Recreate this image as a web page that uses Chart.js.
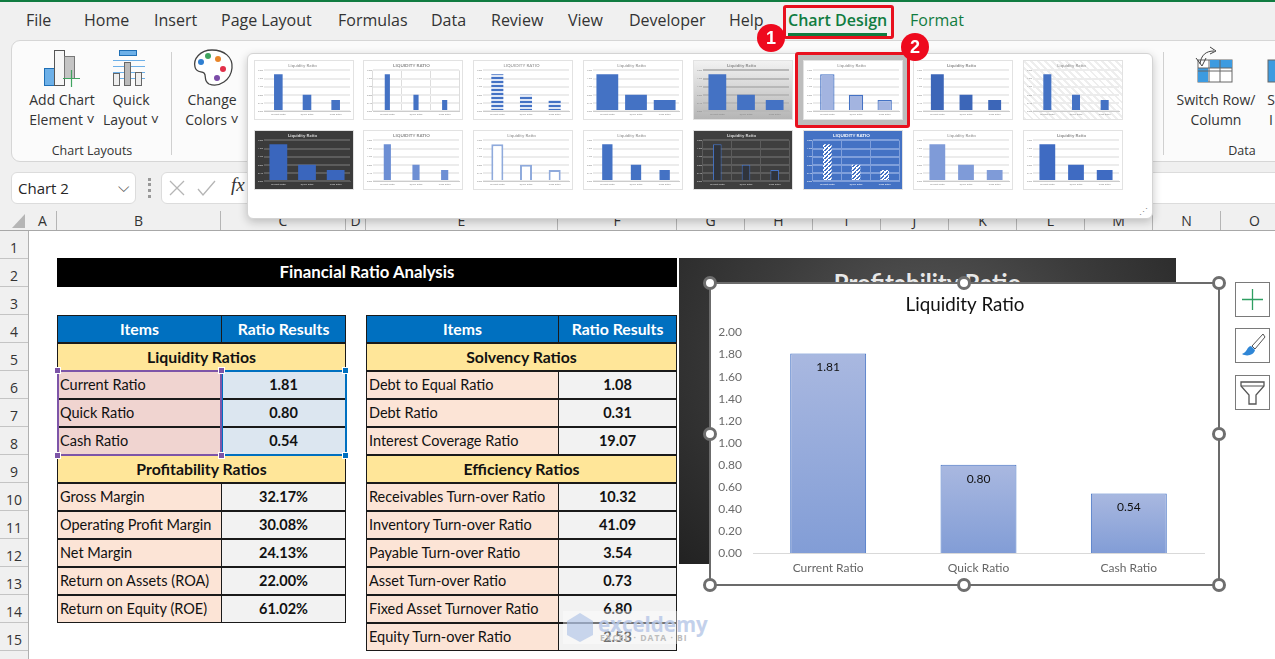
<!DOCTYPE html>
<html>
<head>
<meta charset="utf-8">
<title>Liquidity Ratio</title>
<script src="https://cdn.jsdelivr.net/npm/chart.js@4"></script>
<style>
  html, body { margin: 0; padding: 0; background: #fff; }
  #page { position: relative; width: 1275px; height: 659px; overflow: hidden; font-family: "Open Sans", sans-serif; color: #262626; }
  #page div, #page span { box-sizing: border-box; }
  .abs { position: absolute; white-space: nowrap; }
  .tab { position: absolute; top: 9px; font-size: 16px; line-height: 22px; white-space: nowrap; color: #333; }
  .rib { position: absolute; font-size: 14px; line-height: 20px; text-align: center; transform: translateX(-50%); white-space: nowrap; color: #333; }
  .hdr { position: absolute; font-size: 14px; color: #333; text-align: center; border-right: 1px solid #b5b5b5; }
  .cell { position: absolute; font-family: Lato, sans-serif; font-size: 14.5px; line-height: 26px; height: 28px; border: 1px solid #1a1a1a; padding-left: 2px; white-space: nowrap; color: #111; }
  .cell.val { text-align: center; font-weight: 700; padding-left: 0; }
  .cell.head { background: #0070c0; color: #fff; font-weight: 700; font-size: 15.8px; line-height: 25px; text-align: center; padding-left: 0; }
  .cell.sec { background: #ffe699; font-weight: 700; font-size: 15.8px; line-height: 25px; text-align: center; padding-left: 0; }
  .handle { position: absolute; width: 14px; height: 14px; border-radius: 50%; background: #fff; border: 3px solid #6e6e6e; }
  .side { position: absolute; left: 1235px; width: 35px; height: 35px; background: #fff; border: 1px solid #7a7a7a; }
  .thumb { position: absolute; width: 100px; height: 60px; border: 1px solid #e2e2e2; }
  .thumb canvas { display: block; }
  .badge { position: absolute; width: 28px; height: 28px; border-radius: 50%; background: #ee0a1e; color: #fff; font: 700 18px/28px "Liberation Sans", sans-serif; text-align: center; }
  .redbox { position: absolute; border: 3px solid #e8101e; border-radius: 3px; }
</style>
</head>
<body>
<div id="page">
  <!-- ribbon -->
  <div class="abs" style="left:0;top:0;width:1275px;height:231px;background:#f0f0f0"></div>
  <div class="abs" style="left:0;top:0;width:1275px;height:1.5px;background:#107c41"></div>
  <span class="tab" style="left:26px">File</span>
  <span class="tab" style="left:84px">Home</span>
  <span class="tab" style="left:154px">Insert</span>
  <span class="tab" style="left:221px">Page Layout</span>
  <span class="tab" style="left:338px">Formulas</span>
  <span class="tab" style="left:431px">Data</span>
  <span class="tab" style="left:491px">Review</span>
  <span class="tab" style="left:568px">View</span>
  <span class="tab" style="left:629px">Developer</span>
  <span class="tab" style="left:729px">Help</span>
  <span class="tab" style="left:788px;color:#107c41;font-weight:600">Chart Design</span>
  <span class="tab" style="left:910px;color:#107c41">Format</span>
  <div class="abs" style="left:788px;top:33px;width:99px;height:2.5px;background:#107c41"></div>

  <div class="abs" style="left:11px;top:40px;width:1290px;height:122px;background:#fbfbfb;border:1px solid #d6d6d6;border-radius:9px"></div>
  <div class="abs" style="left:171px;top:52px;width:1px;height:103px;background:#d0d0d0"></div>
  <div class="abs" style="left:1163px;top:52px;width:1px;height:103px;background:#d0d0d0"></div>

  <svg class="abs" style="left:40px;top:46px" width="125" height="44" viewBox="0 0 125 44">
    <rect x="4.5" y="22.5" width="10" height="17" fill="#6db0e8" stroke="#1f6fb5"/>
    <rect x="14.5" y="4.5" width="10" height="35" fill="#f6f6f6" stroke="#555"/>
    <rect x="24.5" y="10.5" width="10" height="22" fill="#c4c4c4" stroke="#777"/>
    <path d="M23 32.5h17M31.5 24v17" stroke="#3fa45f" stroke-width="1.2"/>
    <rect x="79.5" y="4.5" width="17" height="5" fill="#6db0e8" stroke="#1f6fb5"/>
    <path d="M73 14.5h32M73 20.5h32M73 26.5h32M73 32.5h32" stroke="#6db0e8"/>
    <rect x="73.5" y="27.5" width="6" height="12" fill="#eee" stroke="#666"/>
    <rect x="84.5" y="16.5" width="6" height="23" fill="#bbb" stroke="#666"/>
    <rect x="95.5" y="26.5" width="6" height="13" fill="#eee" stroke="#666"/>
  </svg>
  <svg class="abs" style="left:190px;top:48px" width="46" height="40" viewBox="0 0 46 40">
    <path d="M22 2C10 2 3 11 5 19c1 6 7 4 9 6 3 3-1 7 5 11 10 4 22-4 23-16C43 9 34 2 22 2Z" fill="#fff" stroke="#444" stroke-width="1.3"/>
    <circle cx="11" cy="14" r="3" fill="#2f7fd1"/><circle cx="18" cy="8" r="3" fill="#3fa45f"/>
    <circle cx="28" cy="11" r="3" fill="#e8852a"/><circle cx="33" cy="21" r="3" fill="#e2304a"/>
    <circle cx="27" cy="30" r="3" fill="#7b4ca8"/>
  </svg>
  <svg class="abs" style="left:1190px;top:46px" width="85" height="40" viewBox="0 0 85 40">
    <rect x="8" y="14" width="34" height="22" fill="#fff" stroke="#666"/>
    <rect x="20" y="14" width="22" height="8" fill="#3d9be0"/><rect x="8" y="22" width="10" height="14" fill="#3d9be0"/>
    <path d="M8 25h34M8 22h34M19 14v22M30 14v22" stroke="#666" fill="none"/>
    <path d="M6 12l6 8 4-8M10 18C11 9 16 5 24 5M20 1l6 4-6 3" stroke="#444" fill="none"/>
    <rect x="78" y="14" width="20" height="22" fill="#3d9be0" stroke="#666"/>
  </svg>

  <span class="rib" style="left:62px;top:90px">Add Chart</span>
  <span class="rib" style="left:62px;top:110px">Element ˅</span>
  <span class="rib" style="left:131px;top:90px">Quick</span>
  <span class="rib" style="left:131px;top:110px">Layout ˅</span>
  <span class="rib" style="left:212px;top:90px">Change</span>
  <span class="rib" style="left:212px;top:110px">Colors ˅</span>
  <span class="rib" style="left:92px;top:141px;font-size:12.5px">Chart Layouts</span>
  <span class="rib" style="left:1216px;top:90px">Switch Row/</span>
  <span class="rib" style="left:1216px;top:110px">Column</span>
  <span class="rib" style="left:1271px;top:90px">S</span>
  <span class="rib" style="left:1271px;top:110px">I</span>
  <span class="rib" style="left:1242px;top:141px;font-size:12.5px">Data</span>

  <!-- formula bar -->
  <div class="abs" style="left:11px;top:172px;width:125px;height:32px;background:#fff;border:1px solid #dcdcdc;border-radius:6px;font-size:15px;line-height:30px;padding-left:6px">Chart 2<span style="position:absolute;left:106px;top:-2px;color:#555">⌵</span></div>
  <div class="abs" style="left:148px;top:178px;width:3px;height:20px;border-left:3px dotted #999"></div>
  <div class="abs" style="left:161px;top:172px;width:1200px;height:32px;background:#fff;border:1px solid #dcdcdc;border-radius:6px"></div>
  <svg class="abs" style="left:168px;top:178px" width="50" height="20" viewBox="0 0 50 20"><path d="M2 3l14 14M16 3L2 17M30 11l5 6 12-14" stroke="#b5b5b5" stroke-width="1.3" fill="none"/></svg>
  <span class="abs" style="left:231px;top:174px;font:italic 19px 'Liberation Serif',serif;color:#333">fx</span>

  <!-- sheet headers -->
  <div class="abs" style="left:0;top:210px;width:1275px;height:21px;background:#f0f0f0;border-bottom:1.5px solid #a8a8a8"></div>
  <div id="colHeaders"></div>
  <div class="abs" style="left:0;top:231px;width:29px;height:428px;background:#f0f0f0;border-right:1.5px solid #b0b0b0"></div>
  <div id="rowHeaders"></div>
  <svg class="abs" style="left:11px;top:213px" width="16" height="16"><path d="M14 1v14H1Z" fill="#b5b5b5"/></svg>

  <!-- sheet -->
  <div class="abs" style="left:57px;top:258px;width:620px;height:29px;background:#000;color:#fff;font:700 16.8px/28px Lato,sans-serif;text-align:center">Financial Ratio Analysis</div>
  <div id="tables"></div>

  <!-- chart hiding behind -->
  <div class="abs" style="left:679px;top:258px;width:497px;height:306px;background:radial-gradient(ellipse at 50% 30%,#5a5a5a 0%,#3b3b3b 50%,#222 100%);overflow:hidden">
    <div style="position:absolute;left:0;width:100%;top:10px;text-align:center;color:#e8e8e8;font:700 24px Lato,sans-serif">Profitability Ratio</div>
  </div>

  <!-- main chart -->
  <div class="abs" style="left:709px;top:282px;width:511px;height:304px;background:#fff;border:2px solid #6b6b6b">
    <canvas id="mainChart" style="position:absolute;left:-1px;top:-1px"></canvas>
  </div>
  <div id="handles"></div>
  <div class="side" style="top:282px"><svg width="33" height="33"><path d="M16.5 6v21M6 16.5h21" stroke="#2e9e62" stroke-width="1.3"/></svg></div>
  <div class="side" style="top:328px"><svg width="33" height="33"><path d="M27 5 16 17l3 3L29 8Z" fill="#fff" stroke="#555"/><path d="M15 17c-5 1-3 6-9 8 5 3 12 1 13-4Z" fill="#2f86d6"/></svg></div>
  <div class="side" style="top:375px"><svg width="33" height="33"><path d="M5 6h23v4l-8 9v9h-7v-9l-8-9Z" fill="#fff" stroke="#555" stroke-width="1.3"/><path d="M5 10h23" stroke="#555"/></svg></div>

  <!-- chart style gallery -->
  <div class="abs" style="left:247px;top:53px;width:906px;height:166px;background:#fff;border:1px solid #d4d4d4;border-radius:6px;box-shadow:0 3px 10px rgba(0,0,0,.22)"></div>
  <div class="abs" style="left:798px;top:55px;width:109px;height:70px;background:#bdbdbd"></div>
  <div id="gallery"></div>
  <div class="abs" style="left:1139px;top:207px;font-size:9px;color:#888;line-height:9px">⋰</div>

  <!-- callouts -->
  <div class="redbox" style="left:783px;top:5px;width:111px;height:34px"></div>
  <div class="redbox" style="left:795px;top:52px;width:115px;height:76px"></div>
  <div class="badge" style="left:757px;top:24px">1</div>
  <div class="badge" style="left:901px;top:33px">2</div>

  <!-- watermark -->
  <div class="abs" style="left:563px;top:611px;width:150px;height:33px;background:rgba(255,255,255,.4)"></div>
  <svg class="abs" style="left:565px;top:612px;opacity:.6" width="30" height="30"><path d="M15 1 28 9v14l-13 7L2 23V9Z" fill="#a9bfe6"/></svg>
  <span class="abs" style="left:598px;top:610px;font:700 20.5px 'Open Sans',sans-serif;color:#b9c9e8;opacity:.85">exceldemy</span>
  <span class="abs" style="left:600px;top:632px;font:700 8.5px 'Open Sans',sans-serif;letter-spacing:1px;color:#bcbcbc">EXCEL · DATA · BI</span>
</div>

<script>
// chart data
const categories = ['Current Ratio', 'Quick Ratio', 'Cash Ratio'];
const ratioValues = [1.81, 0.80, 0.54];
const yMax = 2;
const yStep = 0.2;

// sheet tables
const liquidityRows = [['Current Ratio', '1.81'], ['Quick Ratio', '0.80'], ['Cash Ratio', '0.54']];
const profitabilityRows = [['Gross Margin', '32.17%'], ['Operating Profit Margin', '30.08%'], ['Net Margin', '24.13%'], ['Return on Assets (ROA)', '22.00%'], ['Return on Equity (ROE)', '61.02%']];
const solvencyRows = [['Debt to Equal Ratio', '1.08'], ['Debt Ratio', '0.31'], ['Interest Coverage Ratio', '19.07']];
const efficiencyRows = [['Receivables Turn-over Ratio', '10.32'], ['Inventory Turn-over Ratio', '41.09'], ['Payable Turn-over Ratio', '3.54'], ['Asset Turn-over Ratio', '0.73'], ['Fixed Asset Turnover Ratio', '6.80'], ['Equity Turn-over Ratio', '2.53']];

const columnLetters = ['A', 'B', 'C', 'D', 'E', 'F', 'G', 'H', 'I', 'J', 'K', 'L', 'M', 'N', 'O'];
const columnEdges = [29, 57, 221, 346, 366, 558, 677, 745, 813, 881, 949, 1017, 1085, 1153, 1221, 1289];

function addDiv(parent, cls, css, text) {
    const d = document.createElement('div');
    d.className = cls;
    d.style.cssText = css;
    if (text !== undefined) d.textContent = text;
    parent.appendChild(d);
    return d;
}

// column and row headers
columnLetters.forEach((c, i) => {
    addDiv(colHeaders, 'hdr', `left:${columnEdges[i]}px;top:211px;width:${columnEdges[i + 1] - columnEdges[i]}px;height:19px;line-height:19px`, c);
});
for (let r = 1; r <= 15; r++) {
    const top = 231 + (r - 1) * 28;
    addDiv(rowHeaders, 'hdr', `left:0;top:${top}px;width:28px;height:28px;line-height:34px;border-right:0;border-bottom:1px solid #c4c4c4`, r);
}

// one block: header, section title and item rows
function addTable(left, split, right) {
    const y = 315;
    addDiv(tables, 'cell head', `left:${left}px;top:${y}px;width:${split - left + 1}px`, 'Items');
    addDiv(tables, 'cell head', `left:${split}px;top:${y}px;width:${right - split}px`, 'Ratio Results');
    return y + 28;
}
function addSection(y, left, split, right, title, rows, itemBg, valBg) {
    addDiv(tables, 'cell sec', `left:${left}px;top:${y}px;width:${right - left}px`, title);
    y += 28;
    rows.forEach(([label, value]) => {
        addDiv(tables, 'cell', `left:${left}px;top:${y}px;width:${split - left + 1}px;background:${itemBg}`, label);
        addDiv(tables, 'cell val', `left:${split}px;top:${y}px;width:${right - split}px;background:${valBg}`, value);
        y += 28;
    });
    return y;
}
let yLeft = addTable(57, 221, 346);
yLeft = addSection(yLeft, 57, 221, 346, 'Liquidity Ratios', liquidityRows, '#f0d4d0', '#dce6f0');
addSection(yLeft, 57, 221, 346, 'Profitability Ratios', profitabilityRows, '#fce4d6', '#f2f2f2');
let yRight = addTable(366, 558, 677);
yRight = addSection(yRight, 366, 558, 677, 'Solvency Ratios', solvencyRows, '#fce4d6', '#f2f2f2');
addSection(yRight, 366, 558, 677, 'Efficiency Ratios', efficiencyRows, '#fce4d6', '#f2f2f2');

// range highlight around the chart source
addDiv(tables, 'abs', 'left:221px;top:370px;width:126px;height:86px;border:2px solid #0070c0');
addDiv(tables, 'abs', 'left:57px;top:370px;width:165px;height:86px;border:2px solid #7d55a8');
[[57, 370, '#7d55a8'], [221, 370, '#7d55a8'], [57, 455, '#7d55a8'], [221, 455, '#7d55a8'], [345, 370, '#0070c0'], [345, 455, '#0070c0']].forEach(([x, y, c]) => {
    addDiv(tables, 'abs', `left:${x - 3}px;top:${y - 3}px;width:7px;height:7px;background:${c};border:1px solid #fff`);
});

// chart selection handles
[[710, 283], [964, 283], [1219, 283], [710, 434], [1219, 434], [710, 585], [964, 585], [1219, 585]].forEach(([x, y]) => {
    addDiv(handles, 'handle', `left:${x - 7}px;top:${y - 7}px`);
});

// writes the value inside the top of each bar
const valueLabels = {
    id: 'valueLabels',
    afterDatasetsDraw(chart, args, opts) {
        const { ctx } = chart;
        ctx.save();
        ctx.font = opts.font;
        ctx.fillStyle = opts.color;
        ctx.textAlign = 'center';
        ctx.textBaseline = 'middle';
        chart.getDatasetMeta(0).data.forEach((bar, i) => {
            ctx.fillText(ratioValues[i].toFixed(2), bar.x, bar.y + opts.offset);
        });
        ctx.restore();
    },
};

// each bar runs light to darker from its own top to the axis
function barGradient(top, bottom) {
    return (context) => {
        const { chart, dataIndex } = context;
        if (!chart.chartArea) return bottom;
        const scale = chart.scales.y;
        const g = chart.ctx.createLinearGradient(0, scale.getPixelForValue(ratioValues[dataIndex]), 0, scale.getPixelForValue(0));
        g.addColorStop(0, top);
        g.addColorStop(1, bottom);
        return g;
    };
}

const mainCanvas = document.getElementById('mainChart');
mainCanvas.width = 510;
mainCanvas.height = 303;
new Chart(mainCanvas, {
    type: 'bar',
    data: {
        labels: categories,
        datasets: [{
            data: ratioValues,
            backgroundColor: barGradient('#a9b8e0', '#829dd6'),
            borderColor: '#4472c4',
            borderWidth: 1,
            barPercentage: 0.505,
            categoryPercentage: 1,
        }],
    },
    options: {
        responsive: false,
        animation: false,
        plugins: {
            legend: { display: false },
            tooltip: { enabled: false },
            title: {
                display: true,
                text: 'Liquidity Ratio',
                color: '#111',
                font: { family: 'Lato', size: 18.8, weight: '400' },
                padding: { top: 11, bottom: 16 },
            },
            valueLabels: { font: '12px Lato', color: '#111', offset: 14 },
        },
        scales: {
            x: {
                grid: { display: false, drawTicks: false },
                border: { color: '#d9d9d9' },
                ticks: { color: '#666', font: { family: 'Lato', size: 12 }, padding: 8 },
                afterFit(s) { s.height = 33; },
            },
            y: {
                min: 0,
                max: yMax,
                grid: { display: false, drawTicks: false },
                border: { display: false },
                ticks: {
                    stepSize: yStep,
                    color: '#6a6a6a',
                    font: { family: 'Lato', size: 12 },
                    padding: 11,
                    callback: (v) => v.toFixed(2),
                },
                afterFit(s) { s.width = 43; },
            },
            // empty right axis: holds the right margin without moving the title off centre
            spacer: {
                position: 'right',
                grid: { display: false, drawTicks: false },
                border: { display: false },
                ticks: { display: false },
                afterFit(s) { s.width = 16; },
            },
        },
    },
    plugins: [valueLabels],
});

// gallery thumbnails: same data, different chart style
function stripes(fg, bg, horizontal) {
    const p = document.createElement('canvas');
    p.width = 4;
    p.height = 4;
    const c = p.getContext('2d');
    c.fillStyle = bg;
    c.fillRect(0, 0, 4, 4);
    c.fillStyle = fg;
    if (horizontal) c.fillRect(0, 0, 4, 2);
    else [0, 1, 2, 3].forEach((i) => c.fillRect(i, 3 - i, 2, 1));
    return c.createPattern(p, 'repeat');
}

const BLUE = '#4472c4';
const thumbStyles = [
    { bar: BLUE, pct: 0.3 },
    { bar: BLUE, pct: 0.18, caps: true, bold: true, vgrid: true },
    { bar: stripes(BLUE, '#dfe7f6', true), pct: 0.42, caps: true },
    { bar: BLUE, pct: 0.76, border: '#8faadc' },
    { bar: BLUE, pct: 0.62, bg: 'linear-gradient(#f2f2f2,#b5b5b5)', bold: true, grid: '#b8b8b8' },
    { bar: '#a3b4e0', pct: 0.5, border: BLUE, borderWidth: 1.2 },
    { bar: '#3c66b8', pct: 0.45, bold: true },
    { bar: BLUE, pct: 0.28, bg: 'repeating-linear-gradient(45deg,#eee 0 2px,#fff 2px 5px)' },
    { bar: '#3a66bd', pct: 0.62, bg: '#3b3b3b', text: '#ddd', bold: true, grid: '#5c5c5c' },
    { bar: '#6d8fd4', pct: 0.25, caps: true, bold: true },
    { bar: '#fff', pct: 0.42, border: '#8faadc', borderWidth: 2 },
    { bar: BLUE, pct: 0.36 },
    { bar: '#30343c', pct: 0.3, bg: '#3f3f3f', text: '#ddd', bold: true, grid: '#5c5c5c', border: BLUE, borderWidth: 1, vgrid: true },
    { bar: stripes('#4472c4', '#fff', false), pct: 0.3, bg: '#4472c4', text: '#fff', caps: true, bold: true, grid: '#7f9fdb', vgrid: true, border: '#fff' },
    { bar: '#7f9bd8', pct: 0.55 },
    { bar: '#3f6bc2', pct: 0.55, bold: true },
];
const thumbLefts = [254, 363, 473, 583, 693, 803, 913, 1023];

thumbStyles.forEach((style, i) => {
    const box = addDiv(gallery, 'thumb', `left:${thumbLefts[i % 8]}px;top:${i < 8 ? 60 : 130}px;background:${style.bg || '#fff'}`);
    const cv = document.createElement('canvas');
    cv.width = 98;
    cv.height = 58;
    box.appendChild(cv);
    const ink = style.text || '#8a8a8a';
    new Chart(cv, {
        type: 'bar',
        data: {
            labels: categories,
            datasets: [{
                data: ratioValues,
                backgroundColor: style.bar,
                borderColor: style.border || style.bar,
                borderWidth: style.borderWidth || 0,
                barPercentage: style.pct,
                categoryPercentage: 1,
            }],
        },
        options: {
            responsive: false,
            animation: false,
            layout: { padding: { top: 0, right: 3, bottom: 0, left: 0 } },
            plugins: {
                legend: { display: false },
                tooltip: { enabled: false },
                title: {
                    display: true,
                    text: style.caps ? 'LIQUIDITY RATIO' : 'Liquidity Ratio',
                    color: ink,
                    font: { family: 'Lato', size: 4.5, weight: style.bold ? '700' : '400' },
                    padding: { top: 2, bottom: 2 },
                },
            },
            scales: {
                x: {
                    grid: { display: !!style.vgrid, color: style.grid || '#ddd', drawTicks: false },
                    border: { color: style.grid || '#ccc' },
                    ticks: { color: ink, font: { family: 'Lato', size: 2.5 }, padding: 2, maxRotation: 0 },
                    afterFit(s) { s.height = 8; },
                },
                y: {
                    min: 0,
                    max: yMax,
                    grid: { color: style.grid || '#ececec', drawTicks: false, lineWidth: 2 },
                    border: { display: false },
                    ticks: { stepSize: yStep, color: ink, font: { family: 'Lato', size: 2.5 }, padding: 1, callback: (v) => v.toFixed(2) },
                    afterFit(s) { s.width = 9; },
                },
            },
        },
    });
});
</script>
</body>
</html>
